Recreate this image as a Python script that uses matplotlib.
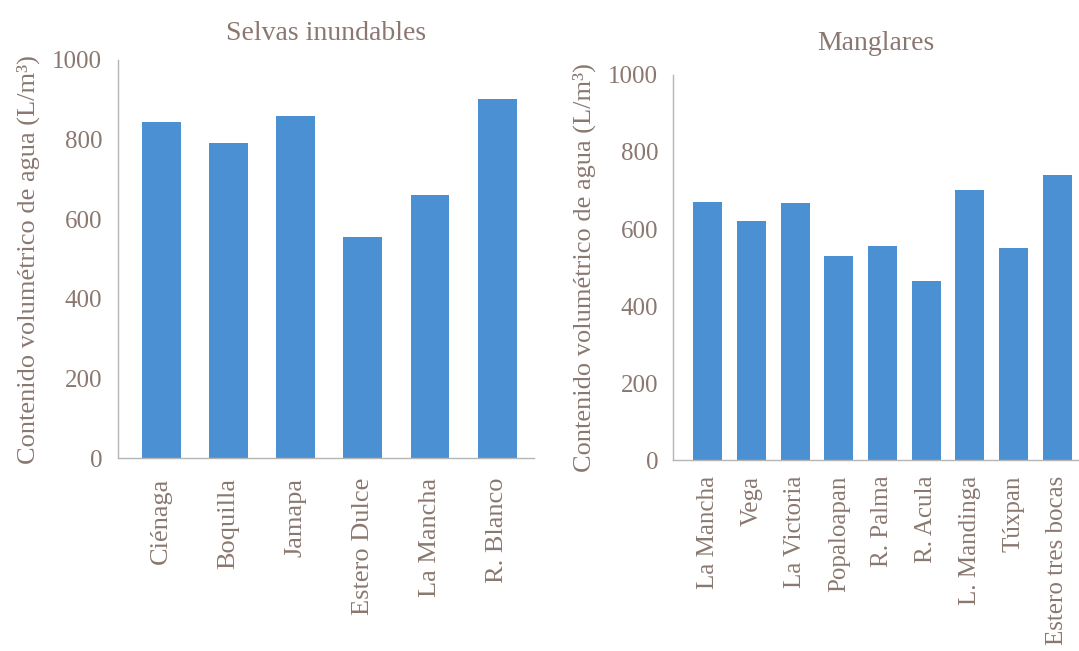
import matplotlib
matplotlib.use('Agg')
from matplotlib import pyplot as plt

# Selvas inundables
selvas_sitios = ['Ciénaga', 'Boquilla', 'Jamapa', 'Estero Dulce', 'La Mancha', 'R. Blanco']
selvas_agua = [843, 792, 858, 556, 660, 901]

# Manglares
mangle_sitios = ['La Mancha', 'Vega', 'La Victoria', 'Popaloapan', 'R. Palma',
                 'R. Acula', 'L. Mandinga', 'Túxpan', 'Estero tres bocas']
mangle_agua = [670, 620, 667, 531, 555, 464, 702, 550, 740]

yticks = [0, 200, 400, 600, 800, 1000]

bar_color = '#4a90d2'
text_color = '#8a7870'
spine_color = '#b5b5b5'

plt.rcParams['font.family'] = ['Liberation Serif', 'DejaVu Serif']
plt.rcParams['text.color'] = text_color

fig = plt.figure(figsize=(10.79, 6.51), dpi=100)
ax1 = fig.add_axes([0.109, 0.296, 0.386, 0.612])
ax2 = fig.add_axes([0.624, 0.293, 0.376, 0.592])


def style(ax, sitios, valores, titulo, ancho, xlim, title_pad, xpad, xsize):
    x = range(len(sitios))
    ax.bar(x, valores, width=ancho, color=bar_color)
    ax.set_xlim(*xlim)
    ax.set_ylim(0, 1000)
    ax.set_yticks(yticks)
    ax.set_yticklabels([str(v) for v in yticks], fontsize=18, color=text_color)
    ax.set_xticks(list(x))
    ax.set_xticklabels(sitios, rotation=90, fontsize=xsize, color=text_color)
    ax.tick_params(axis='y', length=0, pad=11)
    ax.tick_params(axis='x', length=0, pad=xpad)
    ax.set_ylabel('Contenido volumétrico de agua (L/m³)', fontsize=19,
                  color=text_color, labelpad=9)
    ax.set_title(titulo, fontsize=20, color=text_color, pad=title_pad)
    for s in ['top', 'right']:
        ax.spines[s].set_visible(False)
    for s in ['left', 'bottom']:
        ax.spines[s].set_color(spine_color)
        ax.spines[s].set_linewidth(1.0)


style(ax1, selvas_sitios, selvas_agua, 'Selvas inundables', 0.58, (-0.65, 5.55), 14, 14, 19)
style(ax2, mangle_sitios, mangle_agua, 'Manglares', 0.67, (-0.79, 8.5), 18, 11, 18)

fig.savefig('out.png', dpi=100)
